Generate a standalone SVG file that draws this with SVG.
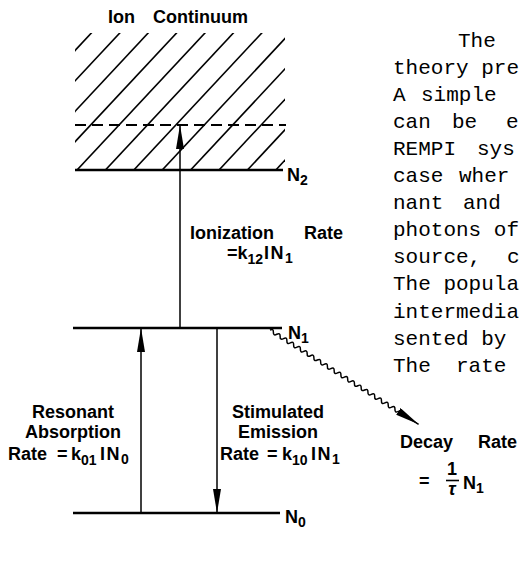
<svg xmlns="http://www.w3.org/2000/svg" width="523" height="562" viewBox="0 0 523 562">
<defs>
<style>
.lvl{stroke:#000;stroke-width:2.6;fill:none}
.hatch{stroke:#000;stroke-width:1.6}
.dash{stroke:#000;stroke-width:2.2;stroke-dasharray:11 6;fill:none}
.arr{stroke:#000;stroke-width:1.5;fill:none;marker-end:url(#ah)}
.lab{font-family:"Liberation Sans",Arial,sans-serif;font-weight:bold;font-size:18px;fill:#000}
.sub{font-size:14px}
.in{letter-spacing:1.5px}
.body{font-family:"Liberation Mono","Courier New",monospace;font-size:21px;fill:#000}
</style>
<marker id="ah" markerUnits="userSpaceOnUse" markerWidth="24" markerHeight="8" viewBox="0 0 24 8" refX="24" refY="4" orient="auto"><path d="M0,0 L24,4 L0,8 Z" fill="#000"/></marker>
<clipPath id="hclip"><rect x="75" y="33" width="210" height="137"/></clipPath>
</defs>
<rect width="523" height="562" fill="#fff"/>

<g id="ion-continuum">
<text class="lab" x="108" y="23" font-size="19.5">Ion<tspan x="153">Continuum</tspan></text>
<g clip-path="url(#hclip)" class="hatch">
<line x1="-45.9" y1="180" x2="103.5" y2="20"/>
<line x1="-17.5" y1="180" x2="131.9" y2="20"/>
<line x1="10.9" y1="180" x2="160.3" y2="20"/>
<line x1="39.3" y1="180" x2="188.7" y2="20"/>
<line x1="67.7" y1="180" x2="217.1" y2="20"/>
<line x1="96.1" y1="180" x2="245.5" y2="20"/>
<line x1="124.5" y1="180" x2="273.9" y2="20"/>
<line x1="152.9" y1="180" x2="302.3" y2="20"/>
<line x1="181.3" y1="180" x2="330.7" y2="20"/>
<line x1="209.7" y1="180" x2="359.1" y2="20"/>
<line x1="238.1" y1="180" x2="387.5" y2="20"/>
<line x1="266.5" y1="180" x2="415.9" y2="20"/>
</g>
<path class="dash" d="M75,125 H286"/>
</g>

<g id="level-N2">
<path class="lvl" d="M75,170 H283"/>
<text class="lab" x="287" y="181">N<tspan class="sub" dy="4">2</tspan></text>
</g>

<g id="level-N1">
<path class="lvl" d="M73,328 H282"/>
<text class="lab" x="288" y="339">N<tspan class="sub" dy="4">1</tspan></text>
</g>

<g id="level-N0">
<path class="lvl" d="M73,513 H280"/>
<text class="lab" x="285" y="523">N<tspan class="sub" dy="4">0</tspan></text>
</g>

<g id="connectors">
<path class="arr" d="M180,328 V125"/>
<path class="arr" d="M141,513 V328"/>
<path class="arr" d="M217,328 V513"/>
<g transform="translate(270,330) rotate(32.4)">
<path class="arr" d="M0,0 q2,-3.5 4,0 t4,0 t4,0 t4,0 t4,0 t4,0 t4,0 t4,0 t4,0 t4,0 t4,0 t4,0 t4,0 t4,0 t4,0 t4,0 t4,0 t4,0 t4,0 t4,0 t4,0 t4,0 t4,0 t4,0 t4,0 t4,0 t4,0 t4,0 t4,0 t4,0 t4,0 t4,0 t4,0 t4,0 t4,0 t4,0 t4,0 t4,0 L176,0"/>
</g>
</g>

<g id="labels">
<text class="lab" x="190" y="239">Ionization<tspan x="304">Rate</tspan></text>
<text class="lab" x="227" y="259">=k<tspan class="sub" dy="5">12</tspan><tspan dy="-5" x="264" class="in">IN</tspan><tspan class="sub" dy="4">1</tspan></text>
<text class="lab" x="73" y="418" text-anchor="middle">Resonant</text>
<text class="lab" x="73" y="438" text-anchor="middle">Absorption</text>
<text class="lab" x="8" y="460">Rate<tspan x="57">=</tspan><tspan x="71">k</tspan><tspan class="sub" dy="5">01</tspan><tspan dy="-5" x="100" class="in">IN</tspan><tspan class="sub" dy="4">0</tspan></text>
<text class="lab" x="278" y="418" text-anchor="middle">Stimulated</text>
<text class="lab" x="278" y="438" text-anchor="middle">Emission</text>
<text class="lab" x="220" y="460">Rate<tspan x="267">=</tspan><tspan x="282">k</tspan><tspan class="sub" dy="5">10</tspan><tspan dy="-5" x="311" class="in">IN</tspan><tspan class="sub" dy="4">1</tspan></text>
<text class="lab" x="400" y="448" font-size="19.5">Decay<tspan x="478">Rate</tspan></text>
<text class="lab" x="419" y="487">=</text>
<text class="lab" x="452" y="475" text-anchor="middle" font-size="14">1</text>
<path d="M446,480.5 H459" stroke="#000" stroke-width="1.6"/>
<text class="lab" x="452" y="495" text-anchor="middle" font-size="14" font-style="italic">τ</text>
<text class="lab" x="463" y="489">N<tspan class="sub" dy="4">1</tspan></text>
</g>

<g id="body-text" class="body">
<text x="458" y="47">The</text>
<text x="393" y="74">theory pre</text>
<text x="393" y="101">A<tspan x="421">simple</tspan></text>
<text x="393" y="128">can<tspan x="452">be</tspan><tspan x="506">e</tspan></text>
<text x="393" y="155">REMPI<tspan x="477">sys</tspan></text>
<text x="393" y="182">case<tspan x="459">wher</tspan></text>
<text x="393" y="209">nant<tspan x="463">and</tspan></text>
<text x="393" y="236">photons of</text>
<text x="393" y="263">source,<tspan x="507">c</tspan></text>
<text x="393" y="290">The popula</text>
<text x="393" y="318">intermedia</text>
<text x="393" y="345">sented by</text>
<text x="393" y="372">The<tspan x="456">rate</tspan></text>
</g>
</svg>
